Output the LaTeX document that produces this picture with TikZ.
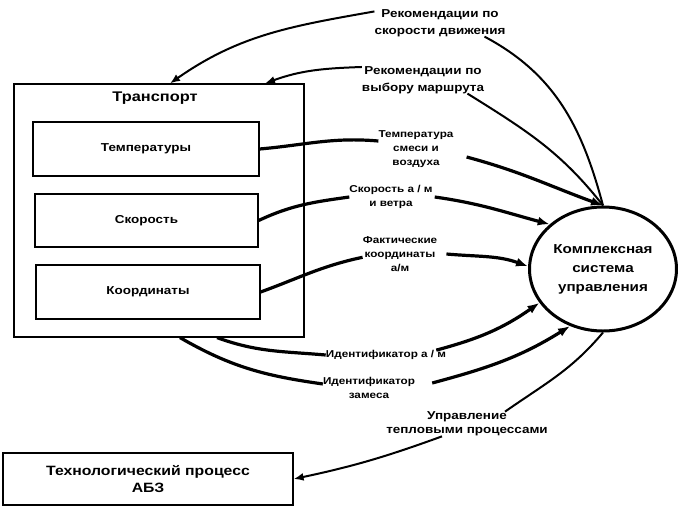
\documentclass[tikz,border=0pt]{standalone}
\usepackage{fontspec}
\setmainfont{Liberation Sans}[FakeStretch=1.17]
\usetikzlibrary{shapes.geometric,arrows.meta}

\begin{document}
\begin{tikzpicture}[x=1pt,y=-1pt,
		every node/.style={font=\bfseries},
		box/.style={draw,line width=1.2pt,inner sep=0pt},
		lbl/.style={align=center,inner sep=0pt,font=\bfseries\fontsize{10}{13.8}\selectfont},
		biglbl/.style={align=center,inner sep=0pt,font=\bfseries\fontsize{11.5}{16.5}\selectfont},
		flow/.style={line width=3.2pt},
		thinflow/.style={line width=2pt},
		tip/.style={-{Latex[length=12pt,width=9pt]}},
		thintip/.style={-{Latex[length=10pt,width=8pt]}}]
		
		\useasboundingbox (0,0) rectangle (678,507);
		
		\node[box,minimum width=290pt,minimum height=253pt] (Trans) at (159,210.5) {};
		\node[font=\bfseries\fontsize{14}{16}\selectfont] (TransTitle) at (155,98) {Транспорт};
		\node[box,minimum width=226pt,minimum height=54pt,font=\bfseries\fontsize{11.5}{14}\selectfont] (Temp) at (146,149) {Температуры};
		\node[box,minimum width=223pt,minimum height=53pt,font=\bfseries\fontsize{11.5}{14}\selectfont] (Speed) at (146.5,220.5) {Скорость};
		\node[box,minimum width=224pt,minimum height=54pt,font=\bfseries\fontsize{11.5}{14}\selectfont] (Coord) at (148,292) {Координаты};
		\node[box,minimum width=290pt,minimum height=52pt,align=center,font=\bfseries\fontsize{13.5}{17}\selectfont] (Tech) at (148,479) {Технологический процесс\\АБЗ};
		
		\node[ellipse,draw,line width=3pt,minimum width=147pt,minimum height=124pt,inner sep=0pt,
			align=center,font=\bfseries\fontsize{13}{19}\selectfont] (KSU) at (603,269) {Комплексная\\система\\управления};
		
		\node[biglbl] (RecSpeed) at (440,23) {Рекомендации по\\скорости движения};
		\node[biglbl] (RecRoute) at (423,80) {Рекомендации по\\выбору маршрута};
		\node[lbl] (TempMix) at (416,149) {Температура\\смеси и\\воздуха};
		\node[lbl] (SpeedWind) at (391,197) {Скорость а / м\\и ветра};
		\node[lbl] (FactCoord) at (400,254) {Фактические\\координаты\\а/м};
		\node[lbl] (IdCar) at (386,355) {Идентификатор а / м};
		\node[lbl] (IdMix) at (369,388) {Идентификатор\\замеса};
		\node[biglbl,font=\bfseries\fontsize{11.5}{14}\selectfont] (HeatCtrl) at (467,424) {Управление\\тепловыми процессами};
		
		\draw[thinflow] (RecSpeed.-17) to[out=-28,in=105] (KSU.north);
		\draw[thinflow,thintip] (RecSpeed.170) to[out=190,in=35] ([xshift=11pt]Trans.north);
		\draw[thinflow] (RecRoute.-17) to[out=-32,in=128] (KSU.north);
		\draw[thinflow,thintip] (RecRoute.168) to[out=182,in=20] ([xshift=106pt]Trans.north);
		
		\draw[flow] (Temp.east) to[out=5,in=175] (TempMix.168);
		\draw[flow,tip] ([xshift=13pt]TempMix.-12) to[out=-15,in=160] (KSU.north);
		\draw[flow] (Speed.east) to[out=25,in=188] (SpeedWind.west);
		\draw[flow,tip] ([xshift=2pt]SpeedWind.east) to[out=-8,in=165] (KSU.140);
		\draw[flow] (Coord.east) to[out=20,in=192] (FactCoord.185);
		\draw[flow,tip] ([xshift=9pt]FactCoord.east) to[out=-5,in=160] (KSU.178);
		\draw[flow] ([xshift=58pt]Trans.south) to[out=-20,in=175] (IdCar.west);
		\draw[flow,tip] ([xshift=-10pt]IdCar.north east) to[out=15,in=215] (KSU.208);
		\draw[flow] ([xshift=21pt]Trans.south) to[out=-30,in=172] (IdMix.175);
		\draw[flow,tip] ([shift={(17pt,5pt)}]IdMix.east) to[out=15,in=212] (KSU.240);
		
		\draw[thinflow] (KSU.south) to[out=230,in=35] ([xshift=38pt]HeatCtrl.north);
		\draw[thinflow,thintip] ([xshift=-25pt]HeatCtrl.south) to[out=200,in=12] (Tech.east);
		
		\end{tikzpicture}
\end{document}
